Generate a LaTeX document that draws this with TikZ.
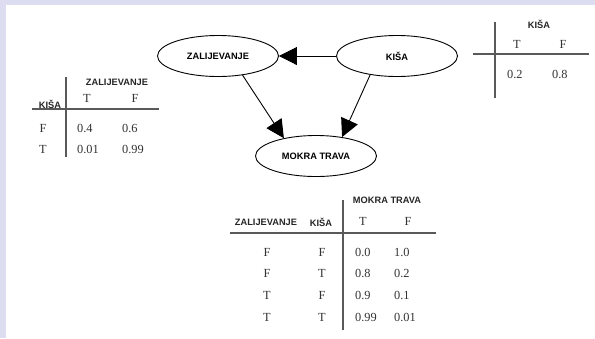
\documentclass[tikz,border=0pt]{standalone}
\usepackage{fontspec}
\setmainfont{Liberation Serif}
\newfontfamily\hdfont{Liberation Sans}
\usetikzlibrary{arrows.meta,shapes.geometric}
\definecolor{lavbg}{RGB}{221,221,242}
\newcommand*{\hdtxt}{\hdfont\bfseries\fontsize{9.3}{10}\selectfont}
\newcommand*{\valtxt}{\fontsize{12.4}{13}\selectfont}
\newcommand*{\rowa}{252}
\newcommand*{\rowb}{273}
\newcommand*{\rowc}{295}
\newcommand*{\rowd}{317}

\begin{document}
\begin{tikzpicture}[x=1bp, y=-1bp,
    var/.style={draw, ellipse, line width=0.9bp, minimum width=121bp, minimum height=41bp, inner sep=0pt, font=\hdtxt},
    hd/.style={inner sep=0pt, font=\hdtxt, text=black!85},
    val/.style={inner sep=0pt, font=\valtxt, text=black!80},
    rule/.style={draw=black!65, line width=1.1bp},
    edge/.style={draw, line width=0.9bp, -{Triangle[length=18bp, width=18bp]}}]
    \useasboundingbox (0,0) rectangle (595,338);
    \fill [lavbg] (0,0) rectangle (595,338);
    \fill [white] (6,5) rectangle (595,338);
    % network
    \node [var] (zal)   at (218, 56) {ZALIJEVANJE};
    \node [var] (kisa)  at (397, 56) {KIŠA};
    \node [var] (mokra) at (316,156) {MOKRA TRAVA};
    \draw [edge] (kisa.west) -- (zal.east);
    \draw [edge] (zal.-38) -- (mokra.151);
    \draw [edge] (kisa.215) -- (mokra.36);
    % table ZALIJEVANJE
    \draw [rule] (66,77) -- (66,157);
    \draw [rule] (32,109) -- (159,109);
    \node [hd]  (zhead) at (117, 82) {ZALIJEVANJE};
    \node [hd]  (zkisa) at ( 50,104) {KIŠA};
    \node [val] (zt)    at ( 87, 98) {T};
    \node [val] (zf)    at (135, 98) {F};
    \node [val] (zra)   at ( 43,128) {F};
    \node [val] (zrb)   at ( 43,149) {T};
    \node [val, anchor=west] (za1) at ( 77,128) {0.4};
    \node [val, anchor=west] (za2) at (122,128) {0.6};
    \node [val, anchor=west] (zb1) at ( 77,149) {0.01};
    \node [val, anchor=west] (zb2) at (122,149) {0.99};
    % table KISA
    \draw [rule] (495,22) -- (495,98);
    \draw [rule] (473,54) -- (589,54);
    \node [hd]  (khead) at (539, 24) {KIŠA};
    \node [val] (kt)    at (517, 44) {T};
    \node [val] (kf)    at (563, 44) {F};
    \node [val, anchor=west] (k1) at (507, 74) {0.2};
    \node [val, anchor=west] (k2) at (552, 74) {0.8};
    % table MOKRA TRAVA
    \draw [rule] (343,200) -- (343,330);
    \draw [rule] (230,233) -- (436,233);
    \node [hd]  (mhead) at (387,200) {MOKRA TRAVA};
    \node [hd]  (mzal)  at (266,222) {ZALIJEVANJE};
    \node [hd]  (mkisa) at (321,222) {KIŠA};
    \node [val] (mt)    at (363,221) {T};
    \node [val] (mf)    at (408,221) {F};
    \node [val] (ma1) at (267,\rowa) {F};
    \node [val] (ma2) at (322,\rowa) {F};
    \node [val, anchor=west] (ma3) at (355,\rowa) {0.0};
    \node [val, anchor=west] (ma4) at (394,\rowa) {1.0};
    \node [val] (mb1) at (267,\rowb) {F};
    \node [val] (mb2) at (322,\rowb) {T};
    \node [val, anchor=west] (mb3) at (355,\rowb) {0.8};
    \node [val, anchor=west] (mb4) at (394,\rowb) {0.2};
    \node [val] (mc1) at (267,\rowc) {T};
    \node [val] (mc2) at (322,\rowc) {F};
    \node [val, anchor=west] (mc3) at (355,\rowc) {0.9};
    \node [val, anchor=west] (mc4) at (394,\rowc) {0.1};
    \node [val] (md1) at (267,\rowd) {T};
    \node [val] (md2) at (322,\rowd) {T};
    \node [val, anchor=west] (md3) at (355,\rowd) {0.99};
    \node [val, anchor=west] (md4) at (394,\rowd) {0.01};
\end{tikzpicture}
\end{document}
